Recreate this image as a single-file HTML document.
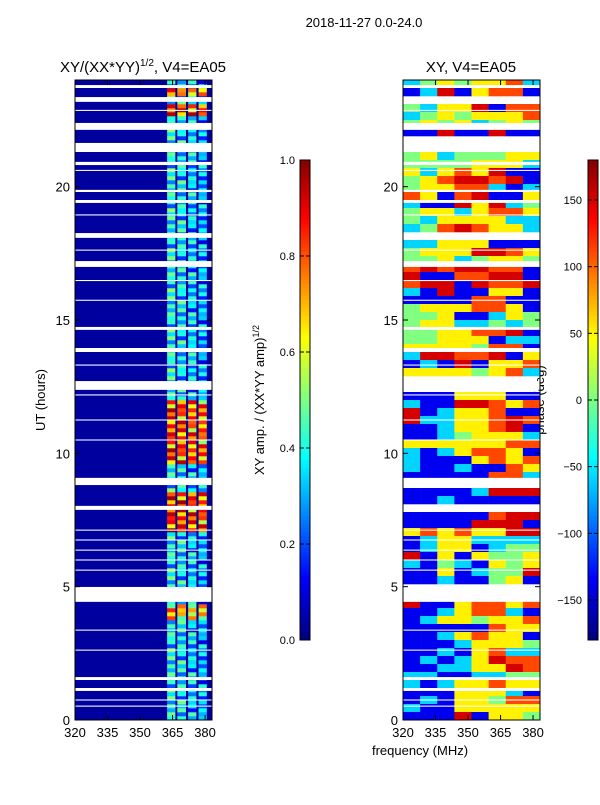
<!DOCTYPE html>
<html><head><meta charset="utf-8"><style>
body{margin:0;background:#fff;}
svg text{font-family:"Liberation Sans",sans-serif;fill:#000;}
</style></head><body>
<svg id="fig" width="600" height="800" viewBox="0 0 600 800" xmlns="http://www.w3.org/2000/svg">
<text x="364" y="27" font-size="13" text-anchor="middle">2018-11-27 0.0-24.0</text>
<text x="143" y="72" font-size="15" text-anchor="middle">XY/(XX*YY)<tspan font-size="10" dy="-6">1/2</tspan><tspan dy="6">, V4=EA05</tspan></text>
<text x="471" y="72" font-size="15" text-anchor="middle">XY, V4=EA05</text>
<text x="45" y="400" font-size="13" text-anchor="middle" transform="rotate(-90 45 400)">UT (hours)</text>
<text x="420" y="755" font-size="13" text-anchor="middle">frequency (MHz)</text>
<text x="264" y="400" font-size="13" text-anchor="middle" transform="rotate(-90 264 400)">XY amp. / (XX*YY amp)<tspan font-size="9" dy="-5">1/2</tspan></text>
<text x="544" y="400" font-size="13" text-anchor="middle" transform="rotate(-90 544 400)">phase (deg)</text>
<g id="left"></g><g id="right"></g><g id="cbars"></g><g id="axes"></g>
</svg>
<script>
// ---- data ----
const gapsHours = [[23.70,23.81],[23.18,23.36],[22.84,22.88],[22.13,22.39],[21.30,21.64],[20.81,20.93],[20.59,20.63],[19.80,19.88],[19.39,19.50],[18.92,18.96],[18.08,18.26],[17.60,17.64],[16.99,17.21],[16.46,16.50],[15.72,15.76],[14.63,14.74],[13.80,13.95],[13.29,13.33],[12.38,12.71],[12.17,12.21],[11.23,11.27],[10.48,10.52],[8.81,9.08],[7.88,8.03],[7.10,7.14],[6.73,6.77],[6.35,6.39],[5.98,6.02],[5.60,5.64],[4.43,4.99],[3.35,3.39],[2.60,2.64],[1.50,1.61],[1.09,1.20],[0.73,0.77],[0.50,0.54]];
const hotStart = [22.6, 23.4, 9.6, 7.0, 3.75];
const hotEnd   = [23.1, 23.7, 12.0, 8.6, 4.4];
const hotLevel = [0.85, 0.75, 0.82, 0.85, 0.7];
const bandLo = [362.5, 367.2, 372.2, 377.0];
const bandHi = [366.3, 371.2, 376.0, 380.8];
const bandNormal = [0.40, 0.37, 0.34, 0.30];
const rowTexture = [0.0, 0.08, -0.1, 0.05, -0.15, 0.1, -0.05, 0.12, -0.2, 0.03];
const baseAmp = 0.03;
const phaseRows = ["cgygyyoc","bcrbyoob",".","gcyyrboo","cgygyyyo","gygycgyg","bbrbbrbb",".",".","gycgggyy",
"ggggyyyc","ycyoyrbb","gyorrorb","gyyoocbc","oyborbby","cbbryrcg","gyycyooy","gcyyyycc","cgoroyyc",".",
"ccyyybbb","gyyyrroy","ggycgyyg","ororroob","rbboorrb","orrbroor","cbrbbyyb","bbbboobb","gyyyooyb","ggybbcyg",
"gyyccgcg","ggyyoorb","ggyyybcc","yyyygoob","crroorby","bcbrbyyo","yyyygyoc",".",".","bbbyyybb",
"cbbrroyo","rbcyyobb","rccyyoro","bbcyyorb","bbcgyyyc","yyyyyyoo","cbcyooyb","cbbbyoyo","cbbcbboy","bbbbbooc",
".","bbbbcrrr","bbcbbbbb",".","bbbbborr","bbbbrrrb","yoyoyyrr","bcyycccc","bcyybcgg","rbybyggy",
"cbgcbygy","bbybcggr","bbcbbgyb",".",".","rbbyooyo","bbcyoocb","bcyygyyo","bbbbboyy","bbcyoyyb",
"bbbcyyyg","bbcbyocc","bcbcyroo","bbccyyro","ccbbccgg","cbcyyoyy","bbbyyycb","bcbyygoo","cbbyyyyy","bbbrbyyg"];
const phaseCodes = {b:-140, c:-60, g:0, y:50, o:110, r:150};
const ampTicks = [0.0,0.2,0.4,0.6,0.8,1.0];
const phaseTicks = [-150,-100,-50,0,50,100,150];
const hourTicks = [0,5,10,15,20];
const freqTicks = [320,335,350,365,380];

// ---- helpers ----
const NS="http://www.w3.org/2000/svg";
function clamp(v){return Math.max(0,Math.min(1,v));}
function jet(v){v=clamp(v);const r=clamp(1.5-Math.abs(4*v-3)),g=clamp(1.5-Math.abs(4*v-2)),b=clamp(1.5-Math.abs(4*v-1));
 return `rgb(${Math.round(r*255)},${Math.round(g*255)},${Math.round(b*255)})`;}
function mk(tag,attrs,parent){const e=document.createElementNS(NS,tag);for(const k in attrs)e.setAttribute(k,attrs[k]);parent.appendChild(e);return e;}
const F0=320,F1=383.2,T0=0,T1=24,Y0=80,Y1=720;
function yOf(h){return Y1-(h-T0)/(T1-T0)*(Y1-Y0);}
function xOfL(f){return 75+(f-F0)/(F1-F0)*137;}
function xOfR(f){return 403+(f-F0)/(F1-F0)*137;}

// ---- left panel ----
const L=document.getElementById('left');
let bg=mk('rect',{x:75,y:80,width:137,height:640,fill:jet(baseAmp)},L);


const nRows=160;
for(let i=0;i<nRows;i++){
 const h0=i*24/nRows,h1=(i+1)*24/nRows,hm=(h0+h1)/2;
 let hot=-1;for(let k=0;k<hotStart.length;k++)if(hm>=hotStart[k]&&hm<hotEnd[k])hot=k;
 for(let b=0;b<bandLo.length;b++){
  const tex=rowTexture[(i+b*3)%rowTexture.length];
  const v=hot>=0?hotLevel[hot]-b*0.02+tex*1.2:bandNormal[b]+tex;
  const r=mk('rect',{x:xOfL(bandLo[b]),y:yOf(h1),width:xOfL(bandHi[b])-xOfL(bandLo[b]),height:yOf(h0)-yOf(h1)+0.3,fill:jet(v)},L);
  
  
 }
}
// ---- right panel ----
const R=document.getElementById('right');
const nR=phaseRows.length;
phaseRows.forEach((row,i)=>{
 const h1=24-i*24/nR,h0=24-(i+1)*24/nR;
 if(row==='.')return;
 const nc=row.length;
 for(let c=0;c<nc;c++){
  const p=phaseCodes[row[c]];
  const f0=F0+c*(F1-F0)/nc,f1=F0+(c+1)*(F1-F0)/nc;
  const r=mk('rect',{x:xOfR(f0),y:yOf(h1),width:xOfR(f1)-xOfR(f0)+0.3,height:yOf(h0)-yOf(h1)+0.3,fill:jet((p+180)/360)},R);
  
  
 }
});
// gaps on both
gapsHours.forEach(g=>{
 [75,403].forEach(x=>{
  const r=mk('rect',{x:x,y:yOf(g[1]),width:137,height:Math.max(1,yOf(g[0])-yOf(g[1])),fill:'#fff'},x===75?L:R);
  
  
 });
});
// ---- colorbars ----
const C=document.getElementById('cbars');
for(let i=0;i<120;i++){
 const v=i/120;
 const a=mk('rect',{x:300,y:640-(i+1)*4,width:10,height:4.3,fill:jet(v)},C);
 
 
 const b=mk('rect',{x:588,y:640-(i+1)*4,width:10,height:4.3,fill:jet(v)},C);
 
 
}
let cb1=mk('rect',{x:300,y:160,width:10,height:480,fill:'none',stroke:'#000','stroke-width':1},C);


let cb2=mk('rect',{x:588,y:160,width:10,height:480,fill:'none',stroke:'#000','stroke-width':1},C);


ampTicks.forEach(t=>{
 const y=640-t*480;
 mk('line',{x1:300,x2:304,y1:y,y2:y,stroke:'#000'},C);mk('line',{x1:306,x2:310,y1:y,y2:y,stroke:'#000'},C);
 const tx=mk('text',{x:295,y:y+4,'font-size':11,'text-anchor':'end'},C);tx.textContent=t.toFixed(1);
 
 
});
phaseTicks.forEach(t=>{
 const y=400-t*240/180;
 mk('line',{x1:588,x2:592,y1:y,y2:y,stroke:'#000'},C);mk('line',{x1:594,x2:598,y1:y,y2:y,stroke:'#000'},C);
 const tx=mk('text',{x:582,y:y+4,'font-size':11,'text-anchor':'end'},C);tx.textContent=(t<0?'\u2212'+(-t):t);
 
 
});
// ---- axes ----
const A=document.getElementById('axes');
[[75,xOfL,'left'],[403,xOfR,'right']].forEach(([x0,xf,nm])=>{
 const fr=mk('rect',{x:x0,y:80,width:137,height:640,fill:'none',stroke:'#000','stroke-width':1},A);
 
 
 hourTicks.forEach(h=>{
  const y=yOf(h);
  mk('line',{x1:x0,x2:x0+5,y1:y,y2:y,stroke:'#000'},A);mk('line',{x1:x0+137,x2:x0+132,y1:y,y2:y,stroke:'#000'},A);
  const t=mk('text',{x:x0-5,y:y+5,'font-size':13,'text-anchor':'end'},A);t.textContent=h;
  
  
 });
 freqTicks.forEach(f=>{
  const x=xf(f);
  mk('line',{x1:x,x2:x,y1:720,y2:715,stroke:'#000'},A);mk('line',{x1:x,x2:x,y1:80,y2:85,stroke:'#000'},A);
  const t=mk('text',{x:x,y:737,'font-size':13,'text-anchor':'middle'},A);t.textContent=f;
  
  
 });
});
</script>
</body></html>
